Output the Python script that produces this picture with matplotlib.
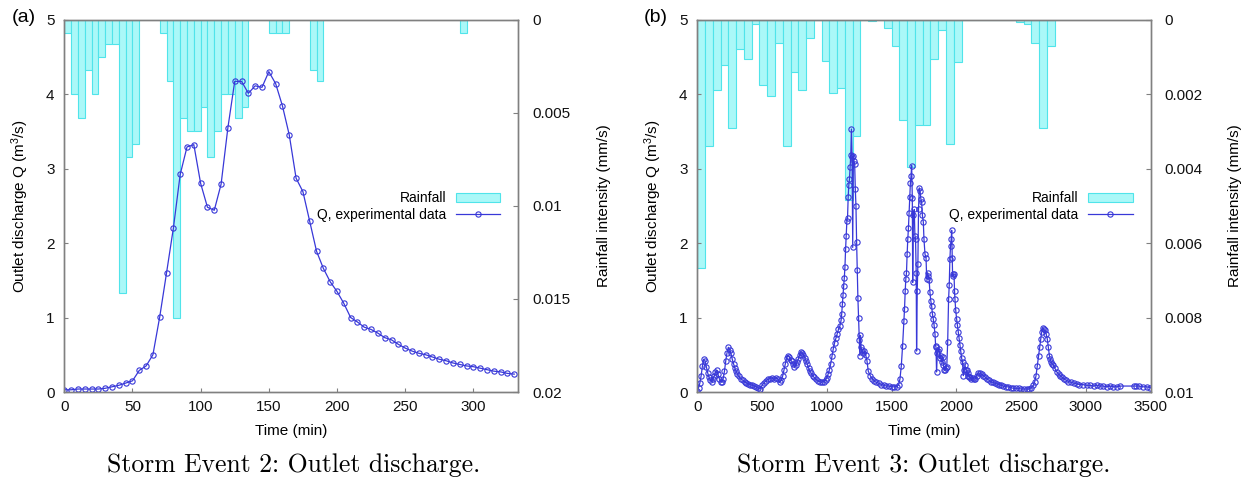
import numpy as np
import matplotlib.pyplot as plt

plt.rcParams['font.family'] = ['Liberation Sans', 'DejaVu Sans']
plt.rcParams['font.size'] = 11

# ---- Storm Event 2 (panel a) ----
t_a = np.arange(0, 335, 5)
q_a = [0.03, 0.03, 0.04, 0.04, 0.04, 0.04, 0.05, 0.07, 0.09, 0.12,
       0.15, 0.29, 0.35, 0.50, 1.01, 1.60, 2.20, 2.92, 3.29, 3.32,
       2.80, 2.48, 2.44, 2.79, 3.55, 4.17, 4.17, 4.01, 4.11, 4.09,
       4.30, 4.14, 3.84, 3.45, 2.87, 2.69, 2.29, 1.89, 1.66, 1.48,
       1.35, 1.19, 1.00, 0.94, 0.87, 0.84, 0.79, 0.73, 0.70, 0.64,
       0.59, 0.55, 0.52, 0.50, 0.47, 0.44, 0.42, 0.39, 0.37, 0.35,
       0.34, 0.32, 0.30, 0.28, 0.27, 0.25, 0.24]
rain_a_start = [0, 5, 10, 15, 20, 25, 30, 35, 40, 45, 50,
                70, 75, 80, 85, 90, 95, 100, 105, 110, 115, 120, 125, 130,
                150, 155, 160, 180, 185, 290]
rain_a = [0.0007, 0.004, 0.0053, 0.0027, 0.004, 0.002, 0.0013, 0.0013, 0.0147, 0.0074, 0.0067,
          0.0007, 0.0033, 0.016, 0.0053, 0.006, 0.006, 0.0047, 0.0074, 0.006, 0.004, 0.004, 0.0053, 0.0047,
          0.0007, 0.0007, 0.0007, 0.0027, 0.0033, 0.0007]

# ---- Storm Event 3 (panel b) ----
t_b = [0, 10, 20, 30, 40, 50, 60, 70, 80, 90, 100, 110, 120, 130, 140, 150, 160, 170, 180, 190,
       200, 210, 220, 230, 240, 250, 260, 270, 280, 290, 300, 310, 320, 335, 350, 365, 380, 395,
       410, 425, 440, 455, 470, 485, 500, 515, 530, 545, 560, 575, 590, 605, 620, 635, 650, 660,
       670, 680, 690, 700, 710, 720, 730, 740, 750, 760, 770, 780, 790, 800, 810, 820, 830, 840,
       850, 860, 870, 880, 890, 900, 915, 930, 945, 960, 975, 990, 1000, 1010, 1020, 1030, 1040,
       1050, 1060, 1070, 1080, 1090, 1100, 1110, 1115, 1120, 1125, 1130, 1135, 1140, 1145, 1150,
       1155, 1160, 1165, 1170, 1175, 1180, 1185, 1190, 1195, 1200, 1205, 1210, 1215, 1220, 1225,
       1230, 1235, 1240, 1245, 1250, 1255, 1260, 1265, 1270, 1280, 1290, 1300, 1310, 1320, 1335,
       1350, 1365, 1380, 1400, 1420, 1440, 1460, 1480, 1500, 1520, 1540, 1555, 1565, 1575, 1585,
       1595, 1600, 1605, 1610, 1615, 1620, 1625, 1630, 1635, 1640, 1645, 1650, 1655, 1660, 1663,
       1668, 1675, 1680, 1685, 1690, 1693, 1698, 1703, 1708, 1714, 1720, 1726, 1732, 1738, 1745,
       1750, 1758, 1766, 1771, 1778, 1784, 1790, 1796, 1803, 1809, 1815, 1822, 1828, 1835, 1840,
       1843, 1847, 1853, 1860, 1866, 1873, 1880, 1887, 1894, 1900, 1907, 1913, 1920, 1926, 1933,
       1940, 1945, 1950, 1955, 1960, 1964, 1968, 1971, 1976, 1982, 1986, 1989, 1995, 2002, 2008,
       2015, 2022, 2028, 2035, 2041, 2048, 2054, 2060, 2067, 2073, 2080, 2087, 2093, 2100, 2106,
       2115, 2125, 2135, 2145, 2157, 2170, 2182, 2195, 2208, 2221, 2235, 2250, 2265, 2280, 2295,
       2311, 2330, 2345, 2362, 2380, 2400, 2420, 2440, 2460, 2480, 2500, 2520, 2543, 2560, 2580,
       2594, 2605, 2615, 2625, 2635, 2643, 2651, 2658, 2666, 2675, 2684, 2693, 2702, 2710, 2718,
       2725, 2731, 2740, 2749, 2760, 2775, 2790, 2800, 2813, 2830, 2845, 2865, 2885, 2905, 2929,
       2950, 2975, 3006, 3030, 3060, 3085, 3109, 3135, 3160, 3185, 3212, 3240, 3264, 3370, 3390,
       3410, 3440, 3470, 3495]
q_b = [0.02, 0.06, 0.12, 0.22, 0.35, 0.44, 0.42, 0.34, 0.26, 0.20, 0.16, 0.14, 0.17, 0.21, 0.27, 0.29, 0.24, 0.18, 0.14, 0.13,
       0.18, 0.28, 0.42, 0.53, 0.60, 0.57, 0.52, 0.44, 0.38, 0.32, 0.28, 0.24, 0.21, 0.18, 0.16, 0.14, 0.12, 0.11,
       0.10, 0.09, 0.08, 0.07, 0.05, 0.04, 0.09, 0.12, 0.15, 0.17, 0.18, 0.19, 0.17, 0.19, 0.18, 0.13, 0.16, 0.22,
       0.30, 0.38, 0.46, 0.49, 0.47, 0.43, 0.41, 0.38, 0.34, 0.36, 0.40, 0.44, 0.50, 0.54, 0.53, 0.50, 0.46, 0.42,
       0.37, 0.32, 0.28, 0.25, 0.22, 0.20, 0.17, 0.15, 0.14, 0.13, 0.14, 0.16, 0.19, 0.24, 0.30, 0.38, 0.48,
       0.58, 0.66, 0.72, 0.78, 0.84, 0.88, 0.96, 1.05, 1.18, 1.30, 1.42, 1.53, 1.68, 1.92, 2.10,
       2.30, 2.34, 2.62, 2.78, 2.86, 3.02, 3.18, 3.53, 3.16, 1.94, 3.17, 3.10, 3.06, 2.72, 2.50,
       2.02, 1.64, 1.26, 1.00, 0.70, 0.49, 0.76, 0.60, 0.56, 0.52, 0.55, 0.50, 0.42, 0.28, 0.22,
       0.18, 0.15, 0.13, 0.12, 0.10, 0.09, 0.08, 0.08, 0.07, 0.07, 0.07, 0.10, 0.18, 0.35, 0.62,
       0.95, 1.12, 1.35, 1.52, 1.60, 1.85, 2.05, 2.20, 2.40, 2.62, 2.80, 2.90, 3.04, 2.60, 1.47,
       2.37, 2.45, 2.10, 2.05, 1.60, 0.55, 1.36, 1.72, 2.46, 2.74, 2.70, 2.59, 2.55, 2.37, 2.28,
       2.05, 1.85, 1.80, 1.52, 1.60, 1.56, 1.50, 1.34, 1.22, 1.16, 1.05, 0.98, 0.90, 0.78, 0.62,
       0.60, 0.27, 0.52, 0.55, 0.58, 0.45, 0.49, 0.40, 0.47, 0.36, 0.30, 0.29, 0.32, 0.34, 0.67,
       1.25, 1.43, 1.78, 1.96, 2.05, 2.17, 1.80, 1.56, 1.58, 1.58, 1.35, 1.25, 1.10, 0.98, 0.90,
       0.80, 0.72, 0.63, 0.55, 0.45, 0.40, 0.22, 0.30, 0.36, 0.30, 0.29, 0.22, 0.25, 0.20, 0.20,
       0.18, 0.19, 0.17, 0.18, 0.22, 0.26, 0.25, 0.24, 0.22, 0.20, 0.18, 0.16, 0.14, 0.13, 0.12,
       0.11, 0.10, 0.09, 0.08, 0.07, 0.07, 0.06, 0.05, 0.05, 0.05, 0.04, 0.04, 0.04, 0.04, 0.06,
       0.09, 0.14, 0.22, 0.35, 0.49, 0.60, 0.71, 0.80, 0.86, 0.84, 0.83, 0.78, 0.71, 0.60, 0.49,
       0.44, 0.40, 0.38, 0.36, 0.32, 0.27, 0.24, 0.22, 0.20, 0.18, 0.16, 0.14, 0.13, 0.12, 0.11,
       0.10, 0.10, 0.09, 0.09, 0.08, 0.09, 0.08, 0.08, 0.07, 0.08, 0.07, 0.07, 0.08, 0.08, 0.08,
       0.08, 0.07, 0.07, 0.06]
rain_b = [0.00666, 0.0034, 0.0019, 0.00121, 0.0029, 0.00079, 0.00106, 0.00011, 0.00177, 0.00206,
          0.00063, 0.0034, 0.0014, 0.0019, 0.00049, 0.0, 0.00112, 0.00198, 0.00184, 0.00484,
          0.00313, 0.0, 0.00005, 0.0, 0.00022, 0.00072, 0.0027, 0.00396, 0.00283, 0.00283,
          0.00106, 0.00027, 0.00335, 0.00114, 0.0, 0.0, 0.0, 0.0, 0.0, 0.0,
          0.0, 0.00007, 0.00013, 0.00063, 0.0029, 0.00072]
rain_b_start = np.arange(len(rain_b)) * 60

line_col = '#3838d8'
bar_face = '#aaf8f8'
bar_edge = '#50e4ea'
frame_col = '#808080'

fig = plt.figure(figsize=(12.46, 4.88), dpi=100)


def panel(rect, t, q, rs, r, width, xmax, xticks, rmax, rticks, rlabels):
    ax = fig.add_axes(rect)
    ax2 = ax.twinx()
    bars = ax2.bar(rs, r, width=width, align='edge', color=bar_face,
                   edgecolor=bar_edge, linewidth=0.8, label='Rainfall')
    ax2.set_ylim(rmax, 0)
    ax2.set_yticks(rticks)
    ax2.set_yticklabels(rlabels)
    line, = ax.plot(t, q, color=line_col, lw=0.9, marker='o', ms=3.8,
                    mfc='none', mec=line_col, mew=0.8,
                    label='Q, experimental data')
    ax.set_zorder(ax2.get_zorder() + 1)
    ax.patch.set_visible(False)
    ax.set_xlim(0, xmax)
    ax.set_ylim(0, 5)
    ax.set_xticks(xticks)
    ax.set_yticks([0, 1, 2, 3, 4, 5])
    ax.tick_params(axis='x', direction='in', length=3, pad=6, top=False)
    ax.tick_params(axis='y', direction='in', length=3, pad=7)
    ax2.tick_params(axis='y', direction='in', length=3.5, pad=10)
    for a in (ax, ax2):
        for s in a.spines.values():
            s.set_color(frame_col)
            s.set_linewidth(1.0)
        a.tick_params(colors=frame_col, labelcolor='#111111')
    ax.legend([bars, line], ['Rainfall', 'Q, experimental data'],
              loc='center right', bbox_to_anchor=(0.96, 0.498),
              frameon=False, markerfirst=False, fontsize=10,
              borderpad=0, borderaxespad=0, labelspacing=0.15,
              handletextpad=0.7, handlelength=3.2, numpoints=1)
    return ax


ax_a = panel([0.0516, 0.1967, 0.3644, 0.7633], t_a, q_a, rain_a_start, rain_a, 5,
             333, [0, 50, 100, 150, 200, 250, 300], 0.02,
             [0, 0.005, 0.01, 0.015, 0.02], ['0', '0.005', '0.01', '0.015', '0.02'])
ax_b = panel([0.5596, 0.1967, 0.3639, 0.7633], t_b, q_b, rain_b_start, rain_b, 60,
             3500, [0, 500, 1000, 1500, 2000, 2500, 3000, 3500], 0.01,
             [0, 0.002, 0.004, 0.006, 0.008, 0.01], ['0', '0.002', '0.004', '0.006', '0.008', '0.01'])

qlabel = r'Outlet discharge Q (m$\mathregular{^3}$/s)'
rlabel = 'Rainfall intensity (mm/s)'
for xq, xr, xc in [(20, 604, 291), (653, 1235, 924)]:
    fig.text(xq / 1246, 1 - 206 / 488, qlabel, rotation=90, ha='center', va='center')
    fig.text(xr / 1246, 1 - 206 / 488, rlabel, rotation=90, ha='center', va='center')
    fig.text(xc / 1246, 1 - 431 / 488, 'Time (min)', ha='center', va='center')

fig.text(24 / 1246, 1 - 18 / 488, '(a)', fontsize=14, ha='center', va='center')
fig.text(656 / 1246, 1 - 18 / 488, '(b)', fontsize=14, ha='center', va='center')

fig.text(294 / 1246, 1 - 465 / 488, 'Storm Event 2: Outlet discharge.',
         family='cmr10', fontsize=18.5, ha='center', va='center')
fig.text(924 / 1246, 1 - 465 / 488, 'Storm Event 3: Outlet discharge.',
         family='cmr10', fontsize=18.5, ha='center', va='center')

fig.savefig('out.png', dpi=100)
